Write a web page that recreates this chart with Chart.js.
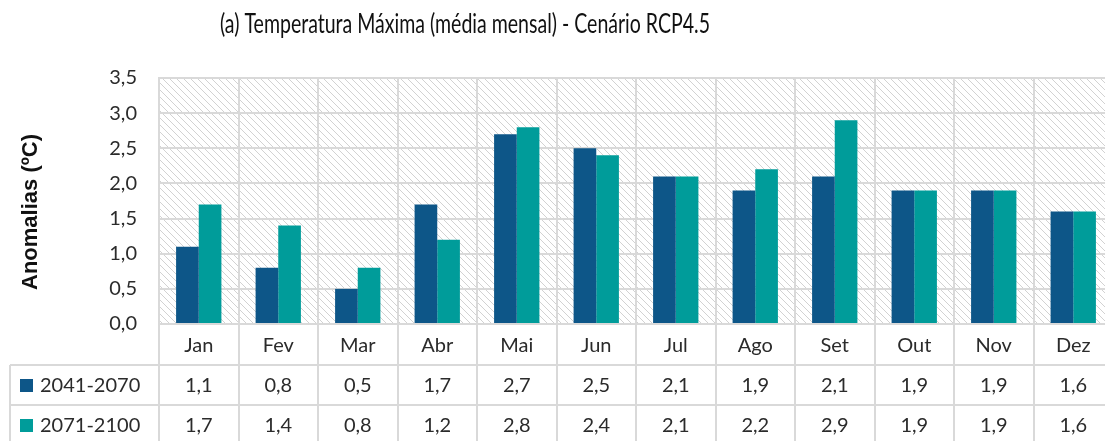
<!DOCTYPE html>
<html>
<head>
<meta charset="utf-8">
<script src="https://cdn.jsdelivr.net/npm/chart.js@4/dist/chart.umd.min.js"></script>
<style>
html, body { margin: 0; padding: 0; background: #fff; overflow: hidden; }
#wrap { width: 1105px; height: 441px; overflow: hidden; }
</style>
</head>
<body>
<div id="wrap"><canvas id="grafico" width="1115" height="441"></canvas></div>
<script>
// Anomalias de temperatura máxima por mês, dois horizontes
const meses = ['Jan', 'Fev', 'Mar', 'Abr', 'Mai', 'Jun', 'Jul', 'Ago', 'Set', 'Out', 'Nov', 'Dez'];
const periodos = ['2041-2070', '2071-2100'];
const anom2041 = [1.1, 0.8, 0.5, 1.7, 2.7, 2.5, 2.1, 1.9, 2.1, 1.9, 1.9, 1.6];
const anom2071 = [1.7, 1.4, 0.8, 1.2, 2.8, 2.4, 2.1, 2.2, 2.9, 1.9, 1.9, 1.6];
const cores = ['#0D5688', '#009C9A'];

const titulo = '(a) Temperatura Máxima (média mensal) - Cenário RCP4.5';
const tituloEixoY = 'Anomalias (ºC)';
const FONTE = 'Lato, "Liberation Sans", sans-serif';
const COR_GRELHA = '#d9d9d9';
const COR_TEXTO = '#2b2b2b';

const fmt = v => v.toFixed(1).replace('.', ',');

// Fundo tracejado da área do gráfico
function padraoTracejado(ctx) {
    const t = document.createElement('canvas');
    t.width = 7; t.height = 7;
    const c = t.getContext('2d');
    c.strokeStyle = '#d2d2d2';
    c.lineWidth = 1;
    c.beginPath();
    c.moveTo(-1, -1); c.lineTo(8, 8);
    c.moveTo(-1, 6); c.lineTo(1, 8);
    c.moveTo(6, -1); c.lineTo(8, 1);
    c.stroke();
    return ctx.createPattern(t, 'repeat');
}

const fundoPlugin = {
    id: 'fundo',
    beforeDraw(chart) {
        const { ctx, chartArea: a } = chart;
        ctx.save();
        ctx.fillStyle = padraoTracejado(ctx);
        ctx.fillRect(a.left, a.top, a.right - a.left, a.bottom - a.top);
        ctx.restore();
    }
};

// Título, título do eixo Y e tabela de dados por baixo do eixo X
const extrasPlugin = {
    id: 'extras',
    afterDraw(chart) {
        const { ctx, chartArea: a } = chart;
        const xs = chart.scales.x;
        const w = xs.getPixelForValue(1) - xs.getPixelForValue(0);
        const H = chart.height;
        const linhas = [a.bottom, a.bottom + 41, a.bottom + 81, a.bottom + 121];

        ctx.save();
        // título (fonte condensada)
        ctx.fillStyle = '#111';
        ctx.font = '27px ' + FONTE;
        ctx.textAlign = 'left';
        ctx.textBaseline = 'middle';
        const tw = ctx.measureText(titulo).width;
        const alvo = 490;
        ctx.save();
        ctx.translate(220, 24);
        ctx.scale(alvo / tw, 1);
        ctx.fillText(titulo, 0, 0);
        ctx.restore();

        // título do eixo Y
        ctx.save();
        ctx.translate(31, 212);
        ctx.rotate(-Math.PI / 2);
        ctx.font = 'bold 22px "Liberation Sans", Arial, sans-serif';
        ctx.textAlign = 'center';
        ctx.fillStyle = '#111';
        ctx.fillText(tituloEixoY, 0, 0);
        ctx.restore();

        // linhas da tabela
        ctx.strokeStyle = COR_GRELHA;
        ctx.lineWidth = 2;
        ctx.beginPath();
        for (let i = 0; i <= meses.length; i++) {
            const x = Math.round(xs.getPixelForValue(0) - w / 2 + i * w);
            ctx.moveTo(x, a.bottom); ctx.lineTo(x, H);
        }
        ctx.moveTo(10, linhas[1]); ctx.lineTo(10, H);
        for (let r = 1; r < linhas.length; r++) {
            ctx.moveTo(10, linhas[r]); ctx.lineTo(a.right, linhas[r]);
        }
        ctx.stroke();

        // meses e valores
        ctx.font = '20px ' + FONTE;
        ctx.fillStyle = COR_TEXTO;
        ctx.textAlign = 'center';
        ctx.textBaseline = 'middle';
        const series = [anom2041, anom2071];
        meses.forEach((m, i) => {
            const x = xs.getPixelForValue(i);
            ctx.fillText(m, x, (linhas[0] + linhas[1]) / 2 + 1);
            series.forEach((s, k) => {
                ctx.fillText(fmt(s[i]), x, (linhas[k + 1] + linhas[k + 2]) / 2 + 1);
            });
        });

        // chave da legenda
        ctx.textAlign = 'left';
        periodos.forEach((p, k) => {
            const yc = (linhas[k + 1] + linhas[k + 2]) / 2;
            ctx.fillStyle = cores[k];
            ctx.fillRect(20, yc - 6, 13, 13);
            ctx.fillStyle = COR_TEXTO;
            ctx.fillText(p, 40, yc + 1);
        });
        ctx.restore();
    }
};

new Chart(document.getElementById('grafico'), {
    type: 'bar',
    data: {
        labels: meses,
        datasets: [
            { label: periodos[0], data: anom2041, backgroundColor: cores[0] },
            { label: periodos[1], data: anom2071, backgroundColor: cores[1] }
        ]
    },
    options: {
        responsive: false,
        animation: false,
        devicePixelRatio: 1,
        layout: { padding: { top: 78, right: 2, bottom: 0, left: 0 } },
        datasets: { bar: { categoryPercentage: 0.57, barPercentage: 1 } },
        plugins: { legend: { display: false }, tooltip: { enabled: false }, title: { display: false } },
        scales: {
            x: {
                grid: { offset: true, color: COR_GRELHA, lineWidth: 2, drawTicks: false },
                border: { display: false },
                ticks: { display: false },
                afterFit(s) { s.height = 117; }
            },
            y: {
                min: 0,
                max: 3.5,
                grid: { color: COR_GRELHA, lineWidth: 2, drawTicks: false },
                border: { display: true, color: COR_GRELHA, width: 2 },
                ticks: {
                    stepSize: 0.5,
                    padding: 22,
                    color: COR_TEXTO,
                    font: { family: FONTE, size: 20 },
                    callback: v => fmt(v)
                },
                afterFit(s) { s.width = 159; }
            }
        }
    },
    plugins: [fundoPlugin, extrasPlugin]
});
</script>
</body>
</html>
